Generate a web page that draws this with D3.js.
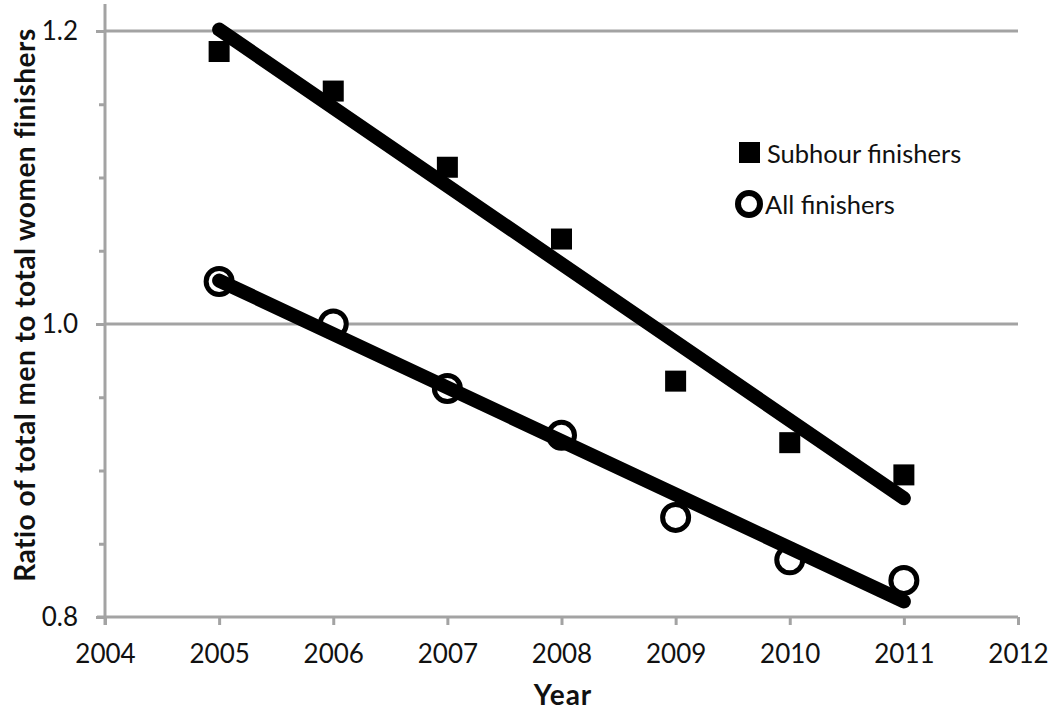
<!DOCTYPE html>
<html>
<head>
<meta charset="utf-8">
<script src="https://cdn.jsdelivr.net/npm/d3@7"></script>
<style>
  body { margin: 0; background: white; }
  text { font-family: Lato, "Open Sans", sans-serif; fill: #111; }
</style>
</head>
<body>
<div id="chart"></div>
<script>
// values
const years = [2005, 2006, 2007, 2008, 2009, 2010, 2011]
const subhour = [1.186, 1.159, 1.107, 1.058, 0.961, 0.919, 0.897]
const allFinishers = [1.029, 1.0, 0.956, 0.924, 0.868, 0.839, 0.825]
const xTicks = [2004, 2005, 2006, 2007, 2008, 2009, 2010, 2011, 2012]
const yTicks = [0.8, 1.0, 1.2]
const yMinorTicks = [0.85, 0.9, 0.95, 1.05, 1.1, 1.15]

const svg = d3.select("#chart").append("svg")
    .attr("width", 1050)
    .attr("height", 712)

const x = d3.scaleLinear().domain([2004, 2012]).range([105, 1018])
const y = d3.scaleLinear().domain([0.8, 1.2]).range([617, 31])

const axisGray = "#a3a3a3"

// gridlines at 1.0 and 1.2
svg.selectAll(".grid")
    .data(yTicks.filter(d => d > 0.8))
    .join("line")
    .attr("class", "grid")
    .attr("x1", 105).attr("x2", 1018)
    .attr("y1", d => y(d)).attr("y2", d => y(d))
    .attr("stroke", axisGray)
    .attr("stroke-width", 3)

// y axis: major + minor ticks
const yAxis = svg.append("g")
    .attr("transform", "translate(105,0)")
    .call(d3.axisLeft(y).tickValues(yTicks).tickSize(9).tickPadding(18)
        .tickFormat(d3.format(".1f")))
yAxis.select(".domain").remove()

const yMinor = svg.append("g")
    .attr("transform", "translate(105,0)")
    .call(d3.axisLeft(y).tickValues(yMinorTicks).tickSize(6).tickFormat(""))
yMinor.select(".domain").remove()

// x axis
const xAxis = svg.append("g")
    .attr("transform", "translate(0,617)")
    .call(d3.axisBottom(x).tickValues(xTicks).tickSize(8).tickPadding(20)
        .tickFormat(d3.format("d")))
xAxis.select(".domain").remove()

svg.selectAll(".tick line").attr("stroke", axisGray).attr("stroke-width", 3)
svg.selectAll(".tick text")
    .style("font-size", "26px")
    .style("font-family", "Lato, sans-serif")
    .attr("fill", "#111")

// axis lines
svg.append("line")
    .attr("x1", 105).attr("x2", 105)
    .attr("y1", 4).attr("y2", 625)
    .attr("stroke", axisGray).attr("stroke-width", 3)
svg.append("line")
    .attr("x1", 97).attr("x2", 1018)
    .attr("y1", 617).attr("y2", 617)
    .attr("stroke", axisGray).attr("stroke-width", 3)

// markers
const sq = 21
svg.selectAll(".sub-pt")
    .data(years.map((yr, i) => [yr, subhour[i]]))
    .join("rect")
    .attr("class", "sub-pt")
    .attr("x", d => x(d[0]) - sq / 2)
    .attr("y", d => y(d[1]) - sq / 2)
    .attr("width", sq).attr("height", sq)
    .attr("fill", "black")

svg.selectAll(".all-pt")
    .data(years.map((yr, i) => [yr, allFinishers[i]]))
    .join("circle")
    .attr("class", "all-pt")
    .attr("cx", d => x(d[0]))
    .attr("cy", d => y(d[1]))
    .attr("r", 13)
    .attr("fill", "white")
    .attr("stroke", "black")
    .attr("stroke-width", 5)

// linear trend lines (least squares, like the spreadsheet trendline)
const fit = (xs, ys) => {
    const mx = d3.mean(xs), my = d3.mean(ys)
    let num = 0, den = 0
    for (let i = 0; i < xs.length; i++) {
        num += (xs[i] - mx) * (ys[i] - my)
        den += (xs[i] - mx) * (xs[i] - mx)
    }
    const slope = num / den
    return v => my + slope * (v - mx)
}

const trendLine = d3.line().x(d => x(d[0])).y(d => y(d[1]))
const ends = d3.extent(years)

;[subhour, allFinishers].forEach(series => {
    const f = fit(years, series)
    svg.append("path")
        .attr("d", trendLine(ends.map(v => [v, f(v)])))
        .attr("fill", "none")
        .attr("stroke", "black")
        .attr("stroke-width", 14)
        .attr("stroke-linecap", "round")
})

// legend
svg.append("rect")
    .attr("x", 739).attr("y", 142)
    .attr("width", sq).attr("height", sq)
    .attr("fill", "black")
svg.append("text")
    .attr("x", 767).attr("y", 163)
    .style("font-size", "25.5px")
    .text("Subhour finishers")

svg.append("circle")
    .attr("cx", 749).attr("cy", 204)
    .attr("r", 11)
    .attr("fill", "white")
    .attr("stroke", "black")
    .attr("stroke-width", 6)
svg.append("text")
    .attr("x", 765).attr("y", 214)
    .style("font-size", "25.5px")
    .text("All finishers")

// axis titles
svg.append("text")
    .attr("x", 563).attr("y", 705)
    .attr("text-anchor", "middle")
    .style("font-size", "28px")
    .style("font-weight", "bold")
    .style("letter-spacing", "1px")
    .text("Year")

svg.append("text")
    .attr("transform", "translate(35,305) rotate(-90)")
    .attr("text-anchor", "middle")
    .style("font-size", "28px")
    .style("font-weight", "bold")
    .style("letter-spacing", "0.5px")
    .text("Ratio of total men to total women finishers")
</script>
</body>
</html>
